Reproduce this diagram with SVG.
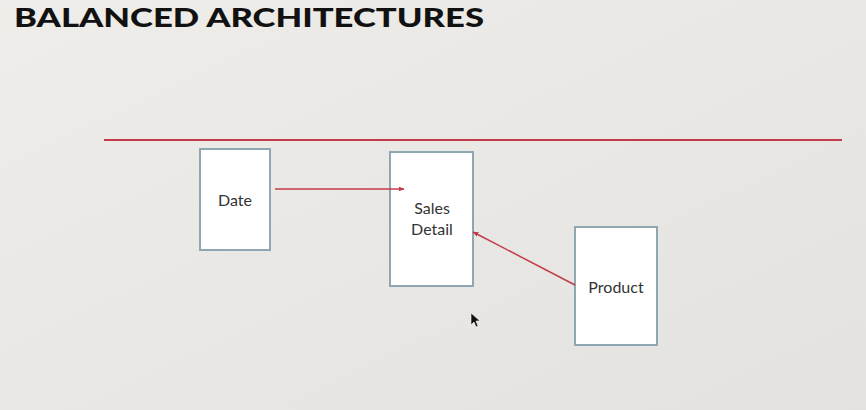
<svg xmlns="http://www.w3.org/2000/svg" width="866" height="410" viewBox="0 0 866 410">
<defs>
<linearGradient id="bg" x1="0" y1="0" x2="1" y2="1">
<stop offset="0" stop-color="#eeede9"/>
<stop offset="1" stop-color="#e3e2de"/>
</linearGradient>
<marker id="ah" viewBox="0 0 10 10" refX="9" refY="5" markerWidth="6" markerHeight="6" orient="auto" markerUnits="userSpaceOnUse">
<path d="M0,1 L10,5 L0,9 Z" fill="#c23b4c"/>
</marker>
<style>
.box{fill:#ffffff;stroke:#8ea7b3;stroke-width:2}
.lbl{font-family:"Lato","Liberation Sans",sans-serif;font-size:16px;fill:#333333;text-anchor:middle}
.conn{stroke:#c23b4c;stroke-width:1.5;fill:none}
</style>
</defs>
<rect width="866" height="410" fill="url(#bg)"/>
<text x="14" y="27" font-family="Lato,'Liberation Sans',sans-serif" font-weight="900" font-size="27" fill="#111111" textLength="470" lengthAdjust="spacingAndGlyphs">BALANCED ARCHITECTURES</text>
<line x1="104" y1="140" x2="842" y2="140" stroke="#c23b4c" stroke-width="2.2"/>
<g id="date"><rect class="box" x="200" y="149" width="70" height="101"/><text class="lbl" x="235" y="206">Date</text></g>
<g id="sales-detail"><rect class="box" x="390" y="152" width="83" height="134"/><text class="lbl" x="432" y="214">Sales</text><text class="lbl" x="432" y="235">Detail</text></g>
<g id="product"><rect class="box" x="575" y="227" width="82" height="118"/><text class="lbl" x="616" y="293">Product</text></g>
<g id="connectors">
<line class="conn" x1="275" y1="189" x2="404" y2="189" marker-end="url(#ah)"/>
<line class="conn" x1="575" y1="285" x2="473" y2="232" marker-end="url(#ah)"/>
</g>
<path d="M471,313 L471,325 L474,322 L476,327 L478,326 L476,321 L480,321 Z" fill="#111111" stroke="#ffffff" stroke-width="0.6"/>
</svg>
